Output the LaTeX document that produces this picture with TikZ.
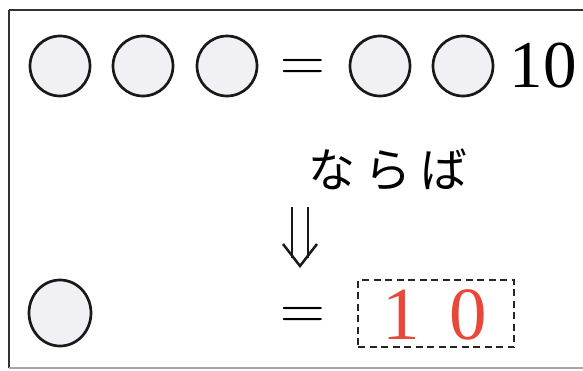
\documentclass[tikz,border=0pt]{standalone}
\usepackage{fontspec}
\usetikzlibrary{shapes.geometric}
\newfontfamily\jpfont{Noto Sans CJK JP}
\newfontfamily\digitfont{Liberation Serif}
\definecolor{coinfill}{RGB}{241,241,245}
\definecolor{framecol}{RGB}{50,50,50}
\definecolor{ansred}{RGB}{232,72,58}
\begin{document}
\begin{tikzpicture}[x=1pt,y=-1pt,
  coin/.style={circle,draw=black!90,line width=2.7pt,fill=coinfill,minimum size=60pt,inner sep=0pt},
  bigtext/.style={font=\digitfont\fontsize{67}{67}\selectfont,inner sep=0pt},
  eqtext/.style={font=\fontsize{62}{62}\selectfont,inner sep=0pt,anchor=base},
  redtext/.style={font=\digitfont\fontsize{75}{75}\selectfont,inner sep=0pt,text=ansred},
  jptext/.style={font=\jpfont\fontsize{47}{47}\selectfont,inner sep=0pt},
  arrowline/.style={line width=2.5pt,black!90},
  answerbox/.style={draw=black!85,line width=1.5pt,dash pattern=on 7pt off 4.5pt,minimum width=156pt,minimum height=67pt,inner sep=0pt}]
\useasboundingbox (0,0) rectangle (583,370);
\draw[framecol,line width=2pt] (9,10) -- (600,10);
\draw[framecol,line width=2pt] (9,10) -- (9,368);
\draw[black!35,line width=1.5pt] (9,368) -- (600,368);
% top row
\node[coin] (c1) at (60,66) {};
\node[coin] (c2) at (143,66) {};
\node[coin] (c3) at (227,66) {};
\node[eqtext] (eq1) at (303,81) {=};
\node[coin] (c4) at (380,66) {};
\node[coin] (c5) at (463,66) {};
\node[bigtext] (ten) at (543,65.5) {10};
% middle
\node[jptext] (naraba) at (388,170) {な\hspace{9pt}ら\hspace{9pt}ば};
\coordinate (s1t) at (292,207);
\coordinate (s1b) at (292,258);
\coordinate (s2t) at (308,207);
\coordinate (s2b) at (308,258);
\coordinate (hl) at (283,244);
\coordinate (tip) at (300,266);
\coordinate (hr) at (317,244);
\draw[arrowline] (s1t) -- (s1b);
\draw[arrowline] (s2t) -- (s2b);
\draw[arrowline,line join=miter] (hl) -- (tip) -- (hr);
% bottom row
\node[coin,ellipse,minimum width=62pt,minimum height=66pt] (c6) at (60,313) {};
\node[eqtext] (eq2) at (303,329) {=};
\node[answerbox] (box) at (436,313.5) {};
\node[redtext] (d1) at (401,314.5) {1};
\node[redtext] (d0) at (468,314.5) {0};
\end{tikzpicture}
\end{document}
